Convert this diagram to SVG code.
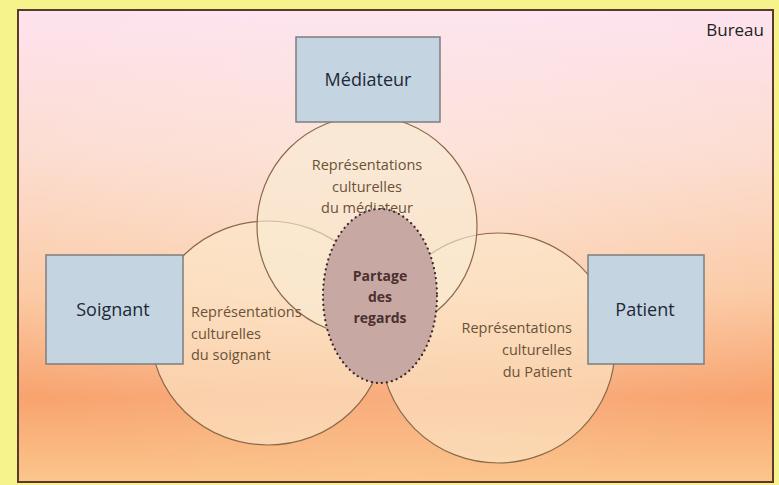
<svg xmlns="http://www.w3.org/2000/svg" width="779" height="485" viewBox="0 0 779 485">
<defs>
<linearGradient id="bg" x1="0" y1="0" x2="0" y2="1">
<stop offset="0" stop-color="#fde3ee"/>
<stop offset="0.3" stop-color="#fcdcd0"/>
<stop offset="0.6" stop-color="#fbc9a2"/>
<stop offset="0.82" stop-color="#f8a36e"/>
<stop offset="1" stop-color="#fbc68c"/>
</linearGradient>
<radialGradient id="glow" cx="0.5" cy="0.45" r="0.6">
<stop offset="0" stop-color="#ffffff" stop-opacity="0.25"/>
<stop offset="1" stop-color="#ffffff" stop-opacity="0"/>
</radialGradient>
<style>
.box{fill:#c4d5e1;stroke:#7d7d7d;stroke-width:1.5}
.lbl{font-family:"Open Sans","Liberation Sans",sans-serif;font-size:18px;fill:#1e2838;text-anchor:middle}
.circ{fill:#fbe8cc;fill-opacity:0.62;stroke:#8a6a4a;stroke-width:1.2}
.rep{font-family:"Open Sans","Liberation Sans",sans-serif;font-size:14.5px;fill:#6a5238}
.share{font-family:"Open Sans","Liberation Sans",sans-serif;font-size:14px;font-weight:bold;fill:#4a3030;text-anchor:middle}
</style>
</defs>
<rect x="0" y="0" width="779" height="485" fill="#f6f38c"/>
<rect x="18" y="10" width="755" height="472" fill="url(#bg)" stroke="#5a3a2a" stroke-width="2"/>
<rect x="19" y="11" width="753" height="470" fill="url(#glow)"/>
<text x="764" y="36" font-family="Open Sans, Liberation Sans, sans-serif" font-size="17" fill="#222" text-anchor="end">Bureau</text>

<g id="circle-soignant">
<ellipse class="circ" cx="268" cy="333" rx="117" ry="112"/>
</g>
<g id="circle-patient">
<ellipse class="circ" cx="498" cy="348" rx="117" ry="115"/>
</g>
<g id="circle-mediateur">
<circle class="circ" cx="367" cy="226" r="110" style="fill:#f9ebd4"/>
</g>

<g id="rep-mediateur">
<text class="rep" text-anchor="middle" x="367" y="170">Représentations</text>
<text class="rep" text-anchor="middle" x="367" y="192">culturelles</text>
<text class="rep" text-anchor="middle" x="367" y="213">du médiateur</text>
</g>
<g id="rep-soignant">
<text class="rep" x="191" y="317">Représentations</text>
<text class="rep" x="191" y="339">culturelles</text>
<text class="rep" x="191" y="360">du soignant</text>
</g>
<g id="rep-patient">
<text class="rep" text-anchor="end" x="572" y="333">Représentations</text>
<text class="rep" text-anchor="end" x="572" y="355">culturelles</text>
<text class="rep" text-anchor="end" x="572" y="377">du Patient</text>
</g>

<g id="partage">
<ellipse cx="380" cy="296" rx="57" ry="87" fill="#c8a8a2" stroke="#3a2828" stroke-width="2.2" stroke-dasharray="0.1 5" stroke-linecap="round"/>
<text class="share" x="380" y="281">Partage</text>
<text class="share" x="380" y="302">des</text>
<text class="share" x="380" y="323">regards</text>
</g>

<g id="mediateur">
<rect class="box" x="296" y="37" width="144" height="85"/>
<text class="lbl" x="368" y="86">Médiateur</text>
</g>
<g id="soignant">
<rect class="box" x="46" y="255" width="137" height="109"/>
<text class="lbl" x="113" y="316">Soignant</text>
</g>
<g id="patient">
<rect class="box" x="588" y="255" width="116" height="109"/>
<text class="lbl" x="645" y="316">Patient</text>
</g>
<g id="connectors"/>
</svg>
